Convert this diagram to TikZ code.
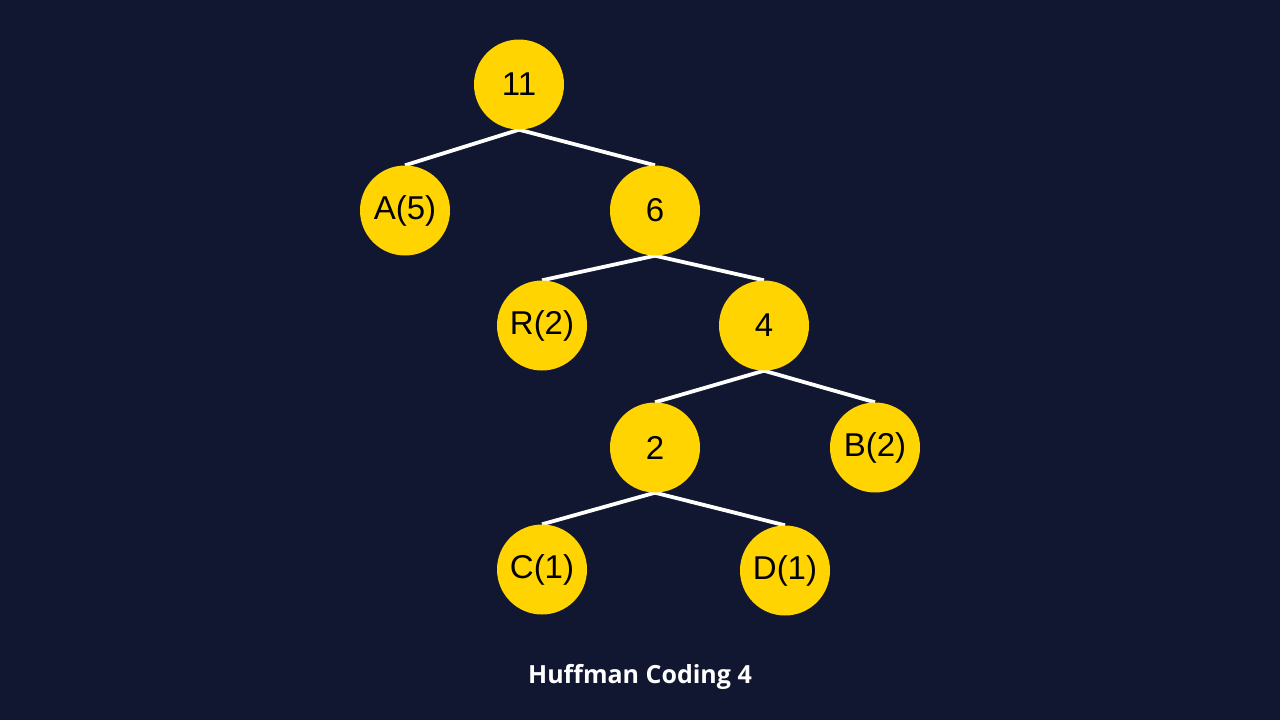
\documentclass[tikz,border=0pt]{standalone}
\usepackage{fontspec}
\setmainfont{Liberation Sans}
\newfontfamily\capfont{Open Sans}
\usetikzlibrary{backgrounds}
\definecolor{bg}{HTML}{111631}
\definecolor{gold}{HTML}{FFD400}
\tikzset{
  hnode/.style={circle, fill=gold, draw=none, minimum size=90pt, inner sep=0pt, text=black, font=\fontsize{33}{33}\selectfont},
  edge/.style={draw=white, line width=3.8pt}
}
\begin{document}
\begin{tikzpicture}[x=1pt,y=-1pt]
\useasboundingbox (0,0) rectangle (1280,720);
\node[hnode] (n11) at (519,84.5) {11};
\node[hnode] (a5) at (405,210.5) {A(5)};
\node[hnode] (n6) at (655,210.5) {6};
\node[hnode] (r2) at (542,325.5) {R(2)};
\node[hnode] (n4) at (764,325.5) {4};
\node[hnode] (n2) at (655,447.5) {2};
\node[hnode] (b2) at (875,447.5) {B(2)};
\node[hnode] (c1) at (542,569.5) {C(1)};
\node[hnode] (d1) at (785,570.5) {D(1)};
\begin{scope}[on background layer]
\fill[bg] (0,0) rectangle (1280,720);
\draw[edge] (n11.south) -- (a5.north);
\draw[edge] (n11.south) -- (n6.north);
\draw[edge] (n6.south) -- (r2.north);
\draw[edge] (n6.south) -- (n4.north);
\draw[edge] (n4.south) -- (n2.north);
\draw[edge] (n4.south) -- (b2.north);
\draw[edge] (n2.south) -- (c1.north);
\draw[edge] (n2.south) -- (d1.north);
\end{scope}
\node[text=white, font=\capfont\bfseries\fontsize{25}{25}\selectfont] (cap) at (640,677) {Huffman Coding 4};
\end{tikzpicture}
\end{document}
